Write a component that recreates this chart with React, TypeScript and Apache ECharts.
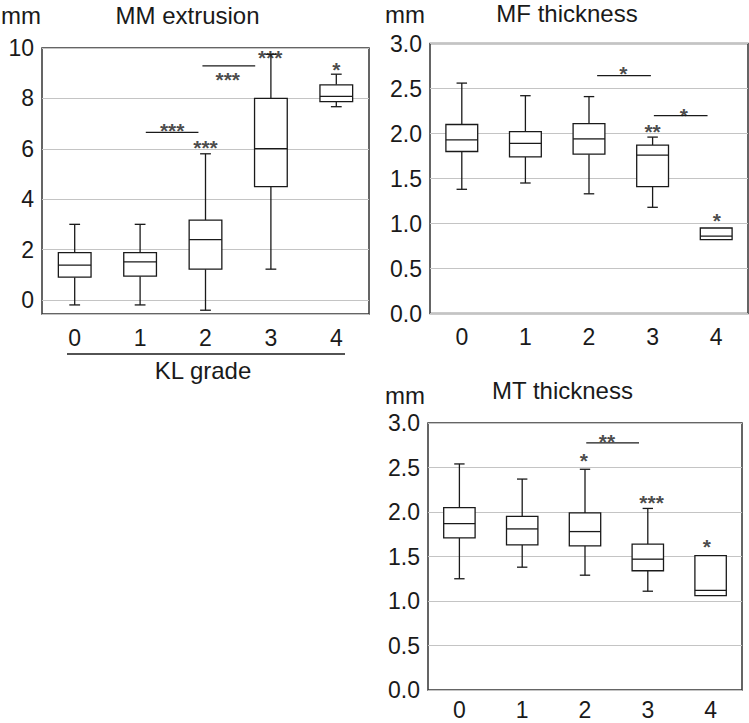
import React, { useEffect, useRef } from 'react';
import * as echarts from 'echarts';

const categories = ['0', '1', '2', '3', '4'];

// five-number summaries per KL grade: [lower whisker, Q1, median, Q3, upper whisker]
const mmExtrusion = [
  [-0.2, 0.9, 1.38, 1.88, 3.0],
  [-0.2, 0.94, 1.51, 1.88, 3.0],
  [-0.41, 1.22, 2.39, 3.17, 5.8],
  [1.22, 4.5, 6.0, 8.0, 9.75],
  [7.67, 7.87, 8.08, 8.54, 8.96],
];
const mfThickness = [
  [1.38, 1.8, 1.93, 2.1, 2.56],
  [1.45, 1.74, 1.89, 2.02, 2.42],
  [1.33, 1.77, 1.94, 2.11, 2.41],
  [1.18, 1.41, 1.76, 1.87, 1.96],
  [0.82, 0.82, 0.86, 0.95, 0.95],
];
const mtThickness = [
  [1.25, 1.71, 1.87, 2.05, 2.54],
  [1.38, 1.63, 1.81, 1.95, 2.37],
  [1.29, 1.62, 1.78, 1.99, 2.48],
  [1.11, 1.34, 1.47, 1.64, 2.04],
  [1.06, 1.06, 1.12, 1.51, 1.51],
];

// significance marks: [x (category units), y, text]
const mmStars: [number, number, string][] = [
  [2.0, 6.25, '***'],
  [1.49, 6.94, '***'],
  [2.34, 8.95, '***'],
  [2.99, 9.83, '***'],
  [4.0, 9.36, '*'],
];
const mfStars: [number, number, string][] = [
  [2.54, 2.725, '*'],
  [3.49, 2.26, '*'],
  [3.0, 2.075, '**'],
  [4.01, 1.093, '*'],
];
const mtStars: [number, number, string][] = [
  [1.98, 2.64, '*'],
  [2.35, 2.85, '**'],
  [3.06, 2.163, '***'],
  [3.94, 1.664, '*'],
];

// comparison brackets: [x start, x end, y]
const mmBrackets: [number, number, number][] = [
  [1.087, 1.892, 6.65],
  [1.953, 2.76, 9.29],
];
const mfBrackets: [number, number, number][] = [
  [2.128, 2.973, 2.643],
  [3.02, 3.864, 2.198],
];
const mtBrackets: [number, number, number][] = [[2.02, 2.86, 2.776]];

const mmTicks = [0, 2, 4, 6, 8, 10];
const thickTicks = [0, 0.5, 1.0, 1.5, 2.0, 2.5, 3.0];

const titles = ['MM extrusion', 'MF thickness', 'MT thickness'];
const unitLabel = 'mm';
const xAxisTitle = 'KL grade';

const FONT = '"Liberation Sans", Arial, Helvetica, sans-serif';
const INK = '#1a1a1a';

export default function App() {
  const ref = useRef<HTMLDivElement>(null);

  useEffect(() => {
    if (!ref.current) return;
    const chart = echarts.init(ref.current, null, { renderer: 'svg' });

    const grids = [
      { left: 42, top: 48, width: 327, height: 266 },
      { left: 430, top: 43.5, width: 318, height: 270 },
      { left: 428, top: 423, width: 314, height: 267 },
    ];
    const panels = [
      { data: mmExtrusion, stars: mmStars, brackets: mmBrackets },
      { data: mfThickness, stars: mfStars, brackets: mfBrackets },
      { data: mtThickness, stars: mtStars, brackets: mtBrackets },
    ];

    const xAxes: any[] = [];
    const yAxes: any[] = [];
    const series: any[] = [];

    panels.forEach((p, i) => {
      xAxes.push({
        type: 'category',
        gridIndex: i,
        data: categories,
        axisLine: { show: false },
        axisTick: { show: false },
        axisLabel: { fontSize: 23, fontFamily: FONT, color: INK, margin: i === 2 ? 8 : 12 },
        splitLine: { show: false },
      });
      xAxes.push({
        type: 'value',
        gridIndex: i,
        min: -0.5,
        max: 4.5,
        show: false,
      });
      const isMM = i === 0;
      yAxes.push({
        type: 'value',
        gridIndex: i,
        min: isMM ? -0.56 : 0,
        max: isMM ? 10 : 3,
        ...(isMM ? {} : { interval: 0.5 }),
        axisLine: { show: false },
        axisTick: { show: false },
        axisLabel: {
          fontSize: 23,
          fontFamily: FONT,
          color: INK,
          margin: 8,
          formatter: (v: number) => {
            const ticks = isMM ? mmTicks : thickTicks;
            const hit = ticks.find((t) => Math.abs(t - v) < 1e-6);
            if (hit === undefined) return '';
            return isMM ? String(hit) : hit.toFixed(1);
          },
        },
        splitLine: { show: true, lineStyle: { color: '#c4c4c4', width: 1 } },
      });

      series.push({
        type: 'custom',
        xAxisIndex: 2 * i,
        yAxisIndex: i,
        data: p.data.map((d, k) => [k, ...d]),
        encode: { x: 0, y: [1, 2, 3, 4, 5] },
        z: 5,
        renderItem: (params: any, api: any) => {
          const x = api.value(0);
          const lo = api.coord([x, api.value(1)]);
          const q1 = api.coord([x, api.value(2)]);
          const md = api.coord([x, api.value(3)]);
          const q3 = api.coord([x, api.value(4)]);
          const hi = api.coord([x, api.value(5)]);
          const bw = api.size([1, 0])[0] * 0.5;
          const cw = bw * 0.33;
          const cx = md[0];
          const ls = { stroke: INK, lineWidth: 1.3, fill: 'none' };
          const children: any[] = [];
          if (hi[1] < q3[1] - 0.5) {
            children.push({ type: 'line', shape: { x1: cx, y1: hi[1], x2: cx, y2: q3[1] }, style: ls });
            children.push({ type: 'line', shape: { x1: cx - cw / 2, y1: hi[1], x2: cx + cw / 2, y2: hi[1] }, style: ls });
          }
          if (lo[1] > q1[1] + 0.5) {
            children.push({ type: 'line', shape: { x1: cx, y1: q1[1], x2: cx, y2: lo[1] }, style: ls });
            children.push({ type: 'line', shape: { x1: cx - cw / 2, y1: lo[1], x2: cx + cw / 2, y2: lo[1] }, style: ls });
          }
          children.push({
            type: 'rect',
            shape: { x: cx - bw / 2, y: q3[1], width: bw, height: q1[1] - q3[1] },
            style: { fill: '#fff', stroke: INK, lineWidth: 1.3 },
          });
          children.push({ type: 'line', shape: { x1: cx - bw / 2, y1: md[1], x2: cx + bw / 2, y2: md[1] }, style: ls });
          return { type: 'group', children };
        },
      });

      series.push({
        type: 'scatter',
        xAxisIndex: 2 * i + 1,
        yAxisIndex: i,
        symbol: 'circle',
        symbolSize: 1,
        itemStyle: { color: 'rgba(0,0,0,0)' },
        z: 10,
        silent: true,
        data: p.stars.map((s) => ({ value: [s[0], s[1]], name: s[2] })),
        label: {
          show: true,
          position: 'inside',
          formatter: '{b}',
          fontSize: 21,
          fontWeight: 'bold',
          fontFamily: FONT,
          color: INK,
          offset: [0, 5],
        },
      });

      p.brackets.forEach((b) => {
        series.push({
          type: 'line',
          xAxisIndex: 2 * i + 1,
          yAxisIndex: i,
          symbol: 'none',
          silent: true,
          z: 10,
          lineStyle: { color: INK, width: 1.3 },
          data: [
            [b[0], b[2]],
            [b[1], b[2]],
          ],
        });
      });
    });

    const txt = (x: number, y: number, text: string, size: number) => ({
      type: 'text',
      x,
      y,
      style: {
        text,
        fontSize: size,
        fontFamily: FONT,
        fill: INK,
        align: 'center',
        verticalAlign: 'middle',
        textAlign: 'center',
        textVerticalAlign: 'middle',
      },
    });

    chart.setOption({
      animation: false,
      backgroundColor: '#fff',
      grid: grids.map((g) => ({
        ...g,
        show: true,
        borderColor: '#333',
        borderWidth: 1.5,
        backgroundColor: 'rgba(0,0,0,0)',
        containLabel: false,
        outerBoundsMode: 'none',
      })),
      xAxis: xAxes,
      yAxis: yAxes,
      series,
      graphic: [
        txt(21, 15, unitLabel, 24),
        txt(187.5, 15, titles[0], 24),
        txt(405, 14, unitLabel, 24),
        txt(567, 13.5, titles[1], 24),
        txt(405, 395, unitLabel, 24),
        txt(562.5, 390, titles[2], 24),
        {
          type: 'line',
          shape: { x1: 67, y1: 354, x2: 345, y2: 354 },
          style: { stroke: INK, lineWidth: 1.3 },
        },
        txt(203, 370, xAxisTitle, 24),
      ],
    });

    return () => {
      chart.dispose();
    };
  }, []);

  return (
    <div
      ref={ref}
      style={{ position: 'absolute', left: 0, top: 0, width: 749, height: 723, background: '#fff' }}
    />
  );
}
